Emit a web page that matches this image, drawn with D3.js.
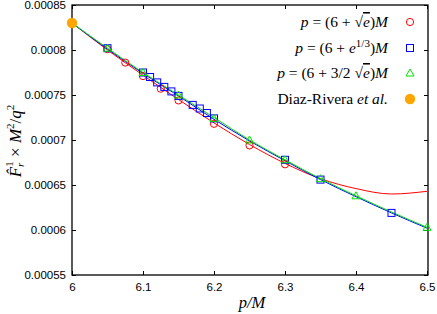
<!DOCTYPE html>
<html>
<head>
<meta charset="utf-8">
<script src="https://cdn.jsdelivr.net/npm/d3@7"></script>
<style>
  body { margin: 0; background: #fff; }
  .tick text { font-family: "Liberation Sans", Arial, sans-serif; font-size: 11.5px; }
</style>
</head>
<body>
<script>
// sample points
var redX = [6.05, 6.075, 6.1, 6.125, 6.15, 6.2, 6.25, 6.3];
var redY = [0.000801, 0.000786, 0.000771, 0.000757, 0.000744, 0.000718, 0.000694, 0.000673];
var blueX = [6.05, 6.1, 6.11, 6.12, 6.13, 6.14, 6.15, 6.17, 6.18, 6.19, 6.2, 6.3, 6.35, 6.45];
var blueY = [0.000802, 0.000775, 0.00077, 0.000764, 0.000759, 0.000754, 0.000749, 0.000739, 0.000735, 0.00073, 0.000724, 0.000678, 0.000656, 0.000619];
var greenX = [6.05, 6.1, 6.15, 6.2, 6.25, 6.3, 6.35, 6.4, 6.5];
var greenY = [0.000802, 0.000775, 0.00075, 0.000724, 0.0007, 0.000678, 0.000657, 0.000638, 0.000603];
var diazX = [6];
var diazY = [0.00083];

var curveX = [6, 6.05, 6.1, 6.15, 6.2, 6.25, 6.3, 6.35, 6.4, 6.45, 6.5];
var redCurve = [0.00083, 0.0008, 0.000772, 0.000745, 0.000719, 0.000695, 0.000674, 0.000657, 0.000646, 0.00064, 0.000643];
var blueCurve = [0.00083, 0.000801, 0.000774, 0.000749, 0.000723, 0.000699, 0.000677, 0.000656, 0.000637, 0.000619, 0.000602];
var greenCurve = [0.00083, 0.000802, 0.000775, 0.00075, 0.000725, 0.0007, 0.000678, 0.000657, 0.000638, 0.00062, 0.000603];

var xTicks = [6, 6.1, 6.2, 6.3, 6.4, 6.5];
var yTicks = [0.00055, 0.0006, 0.00065, 0.0007, 0.00075, 0.0008, 0.00085];

var SERIF = '"Liberation Serif", "Times New Roman", serif';

var margin = { top: 5, right: 9, bottom: 39, left: 72 },
    width = 437 - margin.left - margin.right,
    height = 314 - margin.top - margin.bottom;

var root = d3.select('body').append('svg')
    .attr('width', 437)
    .attr('height', 314);
var svg = root.append('g')
    .attr('transform', 'translate(' + margin.left + ',' + margin.top + ')');

var xScale = d3.scaleLinear().domain([6, 6.5]).range([0, 355]);
var yScale = d3.scaleLinear().domain([0.00055, 0.00085]).range([height, 0]);

// axes, ticks inward on all four sides
svg.append('g').attr('transform', 'translate(0,' + height + ')')
  .call(d3.axisBottom(xScale).tickValues(xTicks).tickFormat(d3.format('')).tickSizeInner(-4).tickSizeOuter(0).tickPadding(8));
svg.append('g')
  .call(d3.axisTop(xScale).tickValues(xTicks).tickFormat('').tickSizeInner(-4).tickSizeOuter(0));
svg.append('g')
  .call(d3.axisLeft(yScale).tickValues(yTicks).tickFormat(function(d){ return +d.toFixed(5) + ''; }).tickSizeInner(-4).tickSizeOuter(0).tickPadding(6));
svg.append('g').attr('transform', 'translate(' + width + ',0)')
  .call(d3.axisRight(yScale).tickValues(yTicks).tickFormat('').tickSizeInner(-4).tickSizeOuter(0));
svg.selectAll('.domain').remove();
svg.selectAll('.tick line').attr('stroke', '#000');
svg.selectAll('.tick text').attr('fill', '#000');
svg.append('rect').attr('width', width).attr('height', height)
  .attr('fill', 'none').attr('stroke', '#000').attr('stroke-width', 1.3);

var clip = root.append('clipPath').attr('id', 'clip');
clip.append('rect').attr('width', width).attr('height', height);
var plot = svg.append('g').attr('clip-path', 'url(#clip)');

var line = d3.line()
  .x(function(d){ return xScale(d[0]); })
  .y(function(d){ return yScale(d[1]); })
  .curve(d3.curveMonotoneX);

function zip(xs, ys) { return xs.map(function(x, i){ return [x, ys[i]]; }); }

var series = [
  { x: redX, y: redY, curve: redCurve, color: '#ff0000', shape: 'circle' },
  { x: blueX, y: blueY, curve: blueCurve, color: '#0000ff', shape: 'square' },
  { x: greenX, y: greenY, curve: greenCurve, color: '#00e000', shape: 'triangle' }
];

series.forEach(function(s){
  plot.append('path').attr('d', line(zip(curveX, s.curve)))
    .attr('stroke', s.color).attr('stroke-width', 1).attr('fill', 'none');
});

function marker(g, shape, color, cx, cy) {
  if (shape === 'circle') {
    g.append('circle').attr('cx', cx).attr('cy', cy).attr('r', 3.6)
      .attr('fill', 'none').attr('stroke', color).attr('stroke-width', 1);
  } else if (shape === 'square') {
    g.append('rect').attr('x', cx - 3.5).attr('y', cy - 3.5).attr('width', 7).attr('height', 7)
      .attr('fill', 'none').attr('stroke', color).attr('stroke-width', 1);
  } else if (shape === 'triangle') {
    g.append('path').attr('d', 'M' + (cx - 4) + ',' + (cy + 3) + 'L' + cx + ',' + (cy - 4) + 'L' + (cx + 4) + ',' + (cy + 3) + 'Z')
      .attr('fill', 'none').attr('stroke', color).attr('stroke-width', 1);
  } else {
    g.append('circle').attr('cx', cx).attr('cy', cy).attr('r', 5.2).attr('fill', '#ffa500');
  }
}

series.forEach(function(s){
  s.x.forEach(function(x, i){ marker(svg, s.shape, s.color, xScale(x), yScale(s.y[i])); });
});
diazX.forEach(function(x, i){ marker(svg, 'dot', '#ffa500', xScale(x), yScale(diazY[i])); });

// legend
var legend = root.append('g');
var rows = [
  { shape: 'circle', color: '#ff0000', y: 22 },
  { shape: 'square', color: '#0000ff', y: 48 },
  { shape: 'triangle', color: '#00e000', y: 73 },
  { shape: 'dot', color: '#ffa500', y: 99 }
];
var sp = '\u2005';
rows.forEach(function(r, i){
  var t = legend.append('text').attr('x', 388).attr('y', r.y + 5).attr('text-anchor', 'end')
    .attr('font-family', SERIF).attr('font-size', 15.5).attr('fill', '#000');
  if (i < 3) {
    t.append('tspan').attr('font-style', 'italic').text('p');
    t.append('tspan').text(' = (6 + ');
    if (i === 0) {
      t.append('tspan').text('√');
      t.append('tspan').attr('font-style', 'italic').attr('text-decoration', 'overline').text('e');
    } else if (i === 1) {
      t.append('tspan').attr('font-style', 'italic').text('e');
      t.append('tspan').attr('dy', -6).attr('font-size', 11).text('1/3');
    } else {
      t.append('tspan').text('3/2' + sp + '√');
      t.append('tspan').attr('font-style', 'italic').attr('text-decoration', 'overline').text('e');
    }
    t.append('tspan').attr('dy', i === 1 ? 6 : 0).text(')');
    t.append('tspan').attr('font-style', 'italic').text('M');
  } else {
    t.append('tspan').text('Diaz-Rivera ');
    t.append('tspan').attr('font-style', 'italic').text('et al.');
  }
  marker(legend, r.shape, r.color, 410, r.y);
});

// axis labels
root.append('text').attr('font-family', SERIF).attr('font-size', 16.5).attr('font-style', 'italic')
  .attr('x', 252).attr('y', 308).attr('text-anchor', 'middle').text('p/M');

var yl = root.append('text').attr('font-family', SERIF).attr('font-size', 17)
  .attr('text-anchor', 'middle')
  .attr('transform', 'translate(21,141)rotate(-90)');
yl.append('tspan').attr('font-style', 'italic').text('F̂');
yl.append('tspan').attr('font-size', 11).attr('font-style', 'italic').attr('dy', 3).text('r');
yl.append('tspan').attr('font-size', 11).attr('dx', -4).attr('dy', -11).text('1');
yl.append('tspan').attr('dy', 8).text(sp + '×' + sp);
yl.append('tspan').attr('font-style', 'italic').text('M');
yl.append('tspan').attr('font-size', 11).attr('dy', -7).text('2');
yl.append('tspan').attr('dy', 7).text('/');
yl.append('tspan').attr('font-style', 'italic').text('q');
yl.append('tspan').attr('font-size', 11).attr('dy', -7).text('2');
</script>
</body>
</html>
